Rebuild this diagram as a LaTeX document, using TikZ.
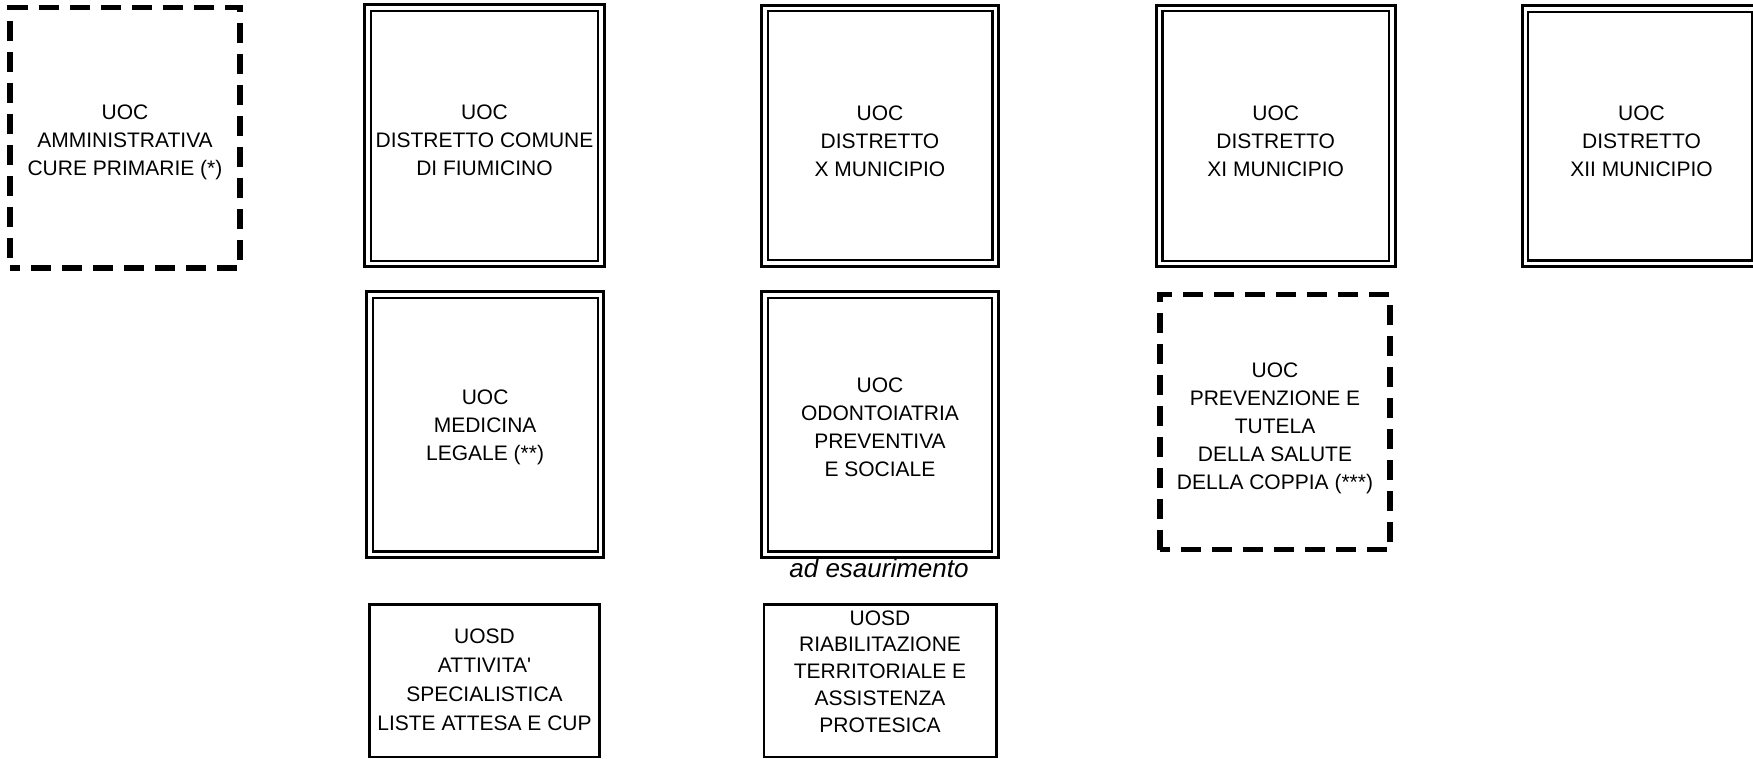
\documentclass[tikz,border=0pt]{standalone}
\usepackage{fontspec}
\setmainfont{Liberation Sans}[Ligatures=TeXOff]
\newcommand\boxfont{\fontsize{21}{28}\selectfont}
\newcommand\dblframe[1]{%
  \draw[line width=3pt] ([xshift=-3.1pt,yshift=3.1pt]#1.north west) rectangle ([xshift=3.1pt,yshift=-3.1pt]#1.south east);
  \draw[line width=2.2pt] ([xshift=3.1pt,yshift=-3.1pt]#1.north west) rectangle ([xshift=-3.1pt,yshift=3.1pt]#1.south east);}
\begin{document}
\begin{tikzpicture}[x=1pt,y=-1pt,
  frame/.style={rectangle, inner sep=0pt, outer sep=0pt},
  dshbox/.style={draw, line width=5.5pt, dash pattern=on 20pt off 11pt, dash phase=10pt,
    rectangle, inner sep=0pt, outer sep=0pt},
  sglbox/.style={draw, line width=2.7pt, rectangle, inner sep=0pt},
  boxtext/.style={align=center, inner sep=0pt, font=\boxfont}]
\useasboundingbox (0,0) rectangle (1753,758);
% row 1
\node[dshbox, minimum width=230pt, minimum height=260.5pt] (amm) at (125,137.75) {};
\node[boxtext] (ammtxt) at (125,142.5) {UOC\\AMMINISTRATIVA\\CURE PRIMARIE (*)};
\node[frame, minimum width=233.3pt, minimum height=255.9pt] (fiu) at (484.5,135.8) {};
\dblframe{fiu}
\node[boxtext] (fiutxt) at (484.5,140.6) {UOC\\DISTRETTO COMUNE\\DI FIUMICINO};
\node[frame, minimum width=231pt, minimum height=255pt] (xm) at (880,135.6) {};
\dblframe{xm}
\node[boxtext] (xmtxt) at (880,141) {UOC\\DISTRETTO\\X MUNICIPIO};
\node[frame, minimum width=232.5pt, minimum height=255.6pt] (xim) at (1275.7,136) {};
\dblframe{xim}
\node[boxtext] (ximtxt) at (1275.7,140.8) {UOC\\DISTRETTO\\XI MUNICIPIO};
\node[frame, minimum width=229.5pt, minimum height=255pt] (xiim) at (1640,136) {};
\dblframe{xiim}
\node[boxtext] (xiimtxt) at (1641.5,140.8) {UOC\\DISTRETTO\\XII MUNICIPIO};
% row 2
\node[frame, minimum width=231.2pt, minimum height=259.7pt] (med) at (485.1,424.7) {};
\dblframe{med}
\node[boxtext] (medtxt) at (485.1,427.7) {UOC\\MEDICINA\\LEGALE (**)};
\node[frame, minimum width=230.5pt, minimum height=259.7pt] (odo) at (880,424.7) {};
\dblframe{odo}
\node[boxtext] (odotxt) at (880,427) {UOC\\ODONTOIATRIA\\PREVENTIVA\\E SOCIALE};
\node[dshbox, minimum width=230pt, minimum height=255.2pt] (prev) at (1275,422.1) {};
\node[boxtext] (prevtxt) at (1275,428.1)
  {UOC\\PREVENZIONE E\\TUTELA\\DELLA SALUTE\\DELLA COPPIA (***)};
\node[font=\fontsize{26}{30}\selectfont\itshape, anchor=base, inner sep=0pt] (esa) at (879,577.5)
  {ad esaurimento};
% row 3
\node[sglbox, minimum width=229.6pt, minimum height=152.3pt] (lis) at (484.5,680.85) {};
\node[boxtext, font=\fontsize{21}{29}\selectfont] (listxt) at (484.5,679.6)
  {UOSD\\ATTIVITA'\\SPECIALISTICA\\LISTE ATTESA E CUP};
\node[sglbox, minimum width=232.3pt, minimum height=152.3pt] (ria) at (880.15,680.85) {};
\node[boxtext, font=\fontsize{21}{26.8}\selectfont] (riatxt) at (880,671.5)
  {UOSD\\RIABILITAZIONE\\TERRITORIALE E\\ASSISTENZA\\PROTESICA};
\end{tikzpicture}
\end{document}
